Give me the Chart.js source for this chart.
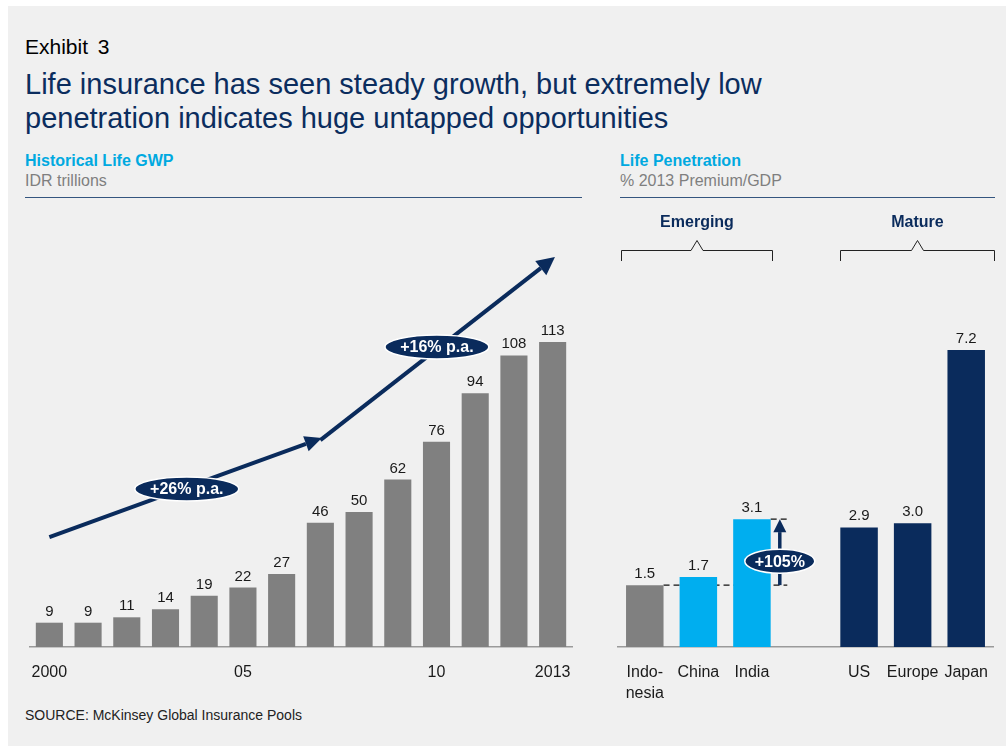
<!DOCTYPE html>
<html>
<head>
<meta charset="utf-8">
<script src="https://cdn.jsdelivr.net/npm/chart.js@4.4.1/dist/chart.umd.min.js"></script>
<style>
  html, body { margin: 0; padding: 0; background: #ffffff; }
  body { width: 1006px; height: 746px; position: relative; overflow: hidden; font-family: "Liberation Sans", Arial, sans-serif; }
  #bg { position: absolute; left: 8px; top: 6px; width: 998px; height: 740px; background: #f0f0f0; }
  .t { position: absolute; white-space: nowrap; }
  #exhibit { left: 25px; top: 35px; font-size: 21px; color: #000; line-height: 24px; word-spacing: 4px; }
  #title { left: 25px; top: 67px; font-size: 29px; color: #0b2d5e; line-height: 34px; }
  .hdr { font-size: 16px; font-weight: bold; color: #00a9e0; line-height: 18px; }
  .sub { font-size: 16px; color: #7f7f7f; line-height: 18px; }
  .rule { position: absolute; height: 1px; background: #34557f; top: 197px; }
  #source { left: 25px; top: 707px; font-size: 14px; color: #222; line-height: 17px; }
  canvas { position: absolute; }
</style>
</head>
<body>
<div id="bg"></div>
<div class="t" id="exhibit">Exhibit 3</div>
<div class="t" id="title">Life insurance has seen steady growth, but extremely low<br>penetration indicates huge untapped opportunities</div>
<div class="t hdr" style="left:25px;top:152px;">Historical Life GWP</div>
<div class="t sub" style="left:25px;top:172px;">IDR trillions</div>
<div class="rule" style="left:25px;width:557px;"></div>
<div class="t hdr" style="left:620px;top:152px;">Life Penetration</div>
<div class="t sub" style="left:620px;top:172px;">% 2013 Premium/GDP</div>
<div class="rule" style="left:620px;width:375px;"></div>
<div class="t" id="source">SOURCE: McKinsey Global Insurance Pools</div>

<div style="position:absolute;left:0;top:200px;width:590px;height:500px;"><canvas id="c1"></canvas></div>
<div style="position:absolute;left:600px;top:200px;width:406px;height:500px;"><canvas id="c2"></canvas></div>

<script>
// ---------- Data: left chart ----------
const years = ['2000','2001','2002','2003','2004','2005','2006','2007','2008','2009','2010','2011','2012','2013'];
const yearTickLabels = ['2000','','','','','05','','','','','10','','','2013'];
const gwpValues = [9, 9, 11, 14, 19, 22, 27, 46, 50, 62, 76, 94, 108, 113];

// growth arrows (category index, value) and their labels
const arrow1 = [[0, 40.7], [7.04, 77.4]];
const arrow2 = [[7.0, 76.6], [13.06, 144.4]];
const growthLabels = ['+26% p.a.', '+16% p.a.'];
const growthLabelPos = [[3.55, 58.5], [10.01, 111.1]];

// ---------- Data: right chart ----------
const countries = [['Indo-','nesia'], 'China', 'India', '', 'US', 'Europe', 'Japan'];
const penetration = [1.5, 1.7, 3.1, null, 2.9, 3.0, 7.2];
const penetrationLabels = ['1.5', '1.7', '3.1', '', '2.9', '3.0', '7.2'];
const groupNames = ['Emerging', 'Mature'];
const groupSpans = [[-0.45, 2.38], [3.64, 6.52]];
const uplift = '+105%';
const upliftFrom = 1.5, upliftTo = 3.1;

const GRAY = '#808080', CYAN = '#00aeef', NAVY = '#0a2b5c';
const barColors = [GRAY, CYAN, CYAN, GRAY, NAVY, NAVY, NAVY];
const FONT = '"Liberation Sans", Arial, sans-serif';

Chart.defaults.font.family = FONT;
Chart.defaults.animation = false;

function valueLabels(fmt) {
  return {
    id: 'valueLabels',
    afterDatasetsDraw(chart) {
      const ctx = chart.ctx;
      const meta = chart.getDatasetMeta(0);
      ctx.save();
      ctx.font = '15px ' + FONT;
      ctx.fillStyle = '#1a1a1a';
      ctx.textAlign = 'center';
      ctx.textBaseline = 'alphabetic';
      meta.data.forEach((bar, i) => {
        const v = chart.data.datasets[0].data[i];
        if (v === null || v === undefined) return;
        ctx.fillText(fmt(i), bar.x, bar.y - 7);
      });
      ctx.restore();
    }
  };
}

function drawArrow(ctx, x1, y1, x2, y2, lw, headLen, headW) {
  const ang = Math.atan2(y2 - y1, x2 - x1);
  const bx = x2 - headLen * Math.cos(ang), by = y2 - headLen * Math.sin(ang);
  ctx.beginPath();
  ctx.lineWidth = lw;
  ctx.moveTo(x1, y1);
  ctx.lineTo(bx, by);
  ctx.stroke();
  ctx.beginPath();
  ctx.moveTo(x2, y2);
  ctx.lineTo(bx + headW / 2 * Math.sin(ang), by - headW / 2 * Math.cos(ang));
  ctx.lineTo(bx - headW / 2 * Math.sin(ang), by + headW / 2 * Math.cos(ang));
  ctx.closePath();
  ctx.fill();
}

function pill(ctx, cx, cy, w, h, text, fontSize) {
  ctx.beginPath();
  ctx.ellipse(cx, cy, w / 2, h / 2, 0, 0, Math.PI * 2);
  ctx.fillStyle = NAVY;
  ctx.fill();
  ctx.lineWidth = 1.5;
  ctx.strokeStyle = '#ffffff';
  ctx.stroke();
  ctx.fillStyle = '#ffffff';
  ctx.font = 'bold ' + fontSize + 'px ' + FONT;
  ctx.textAlign = 'center';
  ctx.textBaseline = 'middle';
  ctx.fillText(text, cx, cy + 1);
}

const growthPlugin = {
  id: 'growth',
  afterDraw(chart) {
    const ctx = chart.ctx, xs = chart.scales.x, ys = chart.scales.y;
    const P = p => [xs.getPixelForValue(p[0]), ys.getPixelForValue(p[1])];
    ctx.save();
    ctx.strokeStyle = NAVY; ctx.fillStyle = NAVY; ctx.lineCap = 'butt';
    const a1s = P(arrow1[0]), a1e = P(arrow1[1]);
    const a2s = P(arrow2[0]), a2e = P(arrow2[1]);
    drawArrow(ctx, a1s[0], a1s[1], a1e[0], a1e[1], 4, 17, 16);
    drawArrow(ctx, a2s[0], a2s[1], a2e[0], a2e[1], 4, 18, 18);
    growthLabels.forEach((t, i) => {
      const p = P(growthLabelPos[i]);
      pill(ctx, p[0], p[1], 104, 24, t, 16);
    });
    ctx.restore();
  }
};

const penPlugin = {
  id: 'pen',
  beforeDatasetsDraw(chart) {
    const ctx = chart.ctx, xs = chart.scales.x, ys = chart.scales.y;
    const meta = chart.getDatasetMeta(0);
    const endX = xs.getPixelForValue(2.66);
    const yLow = ys.getPixelForValue(upliftFrom), yHigh = ys.getPixelForValue(upliftTo);
    ctx.save();
    ctx.strokeStyle = '#111'; ctx.lineWidth = 1.2; ctx.setLineDash([6, 4]);
    const b0 = meta.data[0], b2 = meta.data[2];
    ctx.beginPath();
    ctx.moveTo(b0.x + b0.width / 2, yLow); ctx.lineTo(endX, yLow);
    ctx.moveTo(b2.x + b2.width / 2, yHigh); ctx.lineTo(endX, yHigh);
    ctx.stroke();
    ctx.restore();
  },
  afterDraw(chart) {
    const ctx = chart.ctx, xs = chart.scales.x, ys = chart.scales.y;
    const ax = xs.getPixelForValue(2.52);
    const yLow = ys.getPixelForValue(upliftFrom), yHigh = ys.getPixelForValue(upliftTo);
    ctx.save();
    ctx.strokeStyle = NAVY; ctx.fillStyle = NAVY;
    drawArrow(ctx, ax, yLow, ax, yHigh, 3.5, 13, 13);
    const cy = ys.getPixelForValue(2.08);
    pill(ctx, ax, cy, 70, 24, uplift, 16);
    // group brackets
    ctx.strokeStyle = '#222'; ctx.lineWidth = 1; ctx.fillStyle = NAVY;
    groupSpans.forEach((s, i) => {
      const x1 = Math.round(xs.getPixelForValue(s[0])) + 0.5, x2 = Math.round(xs.getPixelForValue(s[1])) + 0.5;
      const mx = (x1 + x2) / 2;
      const yb = 50.5, yt = 40.5, ye = 61;
      ctx.beginPath();
      ctx.moveTo(x1, ye); ctx.lineTo(x1, yb); ctx.lineTo(mx - 6, yb); ctx.lineTo(mx, yt);
      ctx.lineTo(mx + 6, yb); ctx.lineTo(x2, yb); ctx.lineTo(x2, ye);
      ctx.stroke();
      ctx.font = 'bold 16px ' + FONT;
      ctx.textAlign = 'center'; ctx.textBaseline = 'middle';
      ctx.fillText(groupNames[i], mx, 23);
    });
    ctx.restore();
  }
};

const xAxisCommon = {
  grid: { display: false, drawTicks: false },
  border: { display: true, color: '#9a9a9a', width: 1.5 },
  ticks: { autoSkip: false, maxRotation: 0, minRotation: 0, padding: 15, color: '#1a1a1a', font: { size: 16, lineHeight: 1.3 } },
  afterFit: s => { s.height = 53; }
};

new Chart(document.getElementById('c1'), {
  type: 'bar',
  data: { labels: years, datasets: [{ data: gwpValues, backgroundColor: GRAY, categoryPercentage: 0.7, barPercentage: 1.0 }] },
  options: {
    responsive: true, maintainAspectRatio: false,
    layout: { padding: { left: 30, right: 18, top: 42, bottom: 0 } },
    plugins: { legend: { display: false }, tooltip: { enabled: false } },
    scales: {
      x: Object.assign({}, xAxisCommon, { ticks: Object.assign({}, xAxisCommon.ticks, { callback: (v, i) => yearTickLabels[i] }) }),
      y: { display: false, min: 0, max: 150 }
    }
  },
  plugins: [valueLabels(i => String(gwpValues[i])), growthPlugin]
});

new Chart(document.getElementById('c2'), {
  type: 'bar',
  data: { labels: countries, datasets: [{ data: penetration, backgroundColor: barColors, categoryPercentage: 0.7, barPercentage: 1.0 }] },
  options: {
    responsive: true, maintainAspectRatio: false,
    layout: { padding: { left: 18, right: 13, top: 117, bottom: 0 } },
    plugins: { legend: { display: false }, tooltip: { enabled: false } },
    scales: {
      x: xAxisCommon,
      y: { display: false, min: 0, max: 8 }
    }
  },
  plugins: [valueLabels(i => penetrationLabels[i]), penPlugin]
});
</script>
</body>
</html>
